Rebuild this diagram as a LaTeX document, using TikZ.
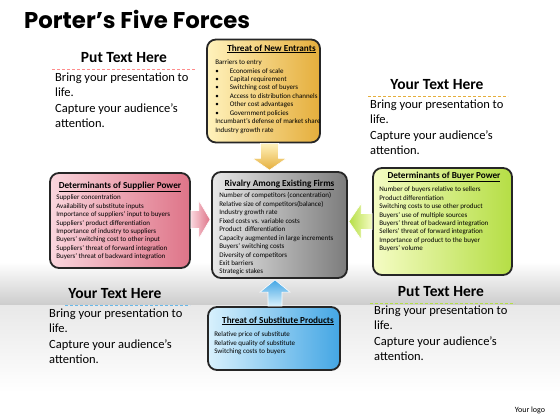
\documentclass[tikz,border=0pt]{standalone}
\usepackage{fontspec}
\setmainfont{Carlito}
\newfontfamily\titlefont{Poppins}
\usetikzlibrary{positioning,calc}

\definecolor{entrantslight}{HTML}{FFF2BC}
\definecolor{entrantsdark}{HTML}{E5AE3C}
\definecolor{supplierlight}{HTML}{FAD6DD}
\definecolor{supplierdark}{HTML}{DE7488}
\definecolor{rivalrylight}{HTML}{E8E8E8}
\definecolor{rivalrydark}{HTML}{7C7C7C}
\definecolor{buyerlight}{HTML}{F5FCC4}
\definecolor{buyerdark}{HTML}{B5DE45}
\definecolor{substlight}{HTML}{D8F1FD}
\definecolor{substdark}{HTML}{44A6E4}

\tikzset{
  forcebox/.style={draw=black!85, line width=1.8pt, rounded corners=9pt,
    shading angle=135, inner sep=0pt},
  boxhead/.style={font=\fontsize{9.2}{11}\selectfont\bfseries, anchor=base, inner sep=0pt},
  boxtext/.style={font=\fontsize{7}{8.45}\selectfont, align=left, anchor=north west, inner sep=0pt},
  blockarrow/.style={draw=white, line width=0.6pt},
  notehead/.style={font=\fontsize{15.5}{18}\selectfont\bfseries, inner sep=0pt},
  notetext/.style={font=\fontsize{12.5}{15.5}\selectfont, align=left, anchor=north west, inner sep=0pt},
  noteline/.style={densely dashed, line width=0.6pt}
}

\newcommand{\notebody}{Bring your presentation to\\life.\\Capture your audience’s\\attention.}

\begin{document}
\begin{tikzpicture}[x=1pt,y=-1pt]
\useasboundingbox (0,0) rectangle (560,420);
% background
\fill[white] (0,0) rectangle (560,420);
\shade[top color=white, bottom color=black!20] (0,262) rectangle (560,305);
\shade[top color=black!9, bottom color=white] (0,305) rectangle (560,392);

% title
\node[anchor=west, inner sep=0pt, font=\titlefont\bfseries\fontsize{22.8}{25}\selectfont] (title) at (24,19) {Porter’s Five Forces};

% the five boxes
\node[forcebox, left color=entrantslight, right color=entrantsdark, minimum width=113pt, minimum height=103pt] (entrants) at (263.5,91) {};
\node[forcebox, left color=supplierlight, right color=supplierdark, minimum width=140pt, minimum height=95pt] (supplier) at (120,220.5) {};
\node[forcebox, left color=rivalrylight, right color=rivalrydark, minimum width=135pt, minimum height=106pt] (rivalry) at (279.5,225) {};
\node[forcebox, left color=buyerlight, right color=buyerdark, minimum width=139pt, minimum height=107pt] (buyer) at (442.5,221.5) {};
\node[forcebox, left color=substlight, right color=substdark, minimum width=132pt, minimum height=63pt] (substitute) at (274,338.5) {};

% box texts
\node[boxhead] (entrantshead) at ($(entrants.north)+(8,12.5)$) {\underline{Threat of New Entrants}};
\node[boxtext] (entrantslist) at ($(entrants.north west)+(9,21)$) {Barriers to entry\\
\textbullet\hspace{11pt}Economies of scale\\
\textbullet\hspace{11pt}Capital requirement\\
\textbullet\hspace{11pt}Switching cost of buyers\\
\textbullet\hspace{11pt}Access to distribution channels\\
\textbullet\hspace{11pt}Other cost advantages\\
\textbullet\hspace{11pt}Government policies\\
Incumbant’s defense of market share\\
Industry growth rate};

\node[boxhead] (supplierhead) at ($(supplier.north)+(0,16)$) {\underline{Determinants of Supplier Power}};
\node[boxtext] (supplierlist) at ($(supplier.north west)+(7,22.5)$) {Supplier concentration\\
Availability of substitute inputs\\
Importance of suppliers’ input to buyers\\
Suppliers’ product differentiation\\
Importance of industry to suppliers\\
Buyers’ switching cost to other input\\
Suppliers’ threat of forward integration\\
Buyers’ threat of backward integration};

\node[boxhead] (rivalryhead) at ($(rivalry.north)+(0,15)$) {\underline{Rivalry Among Existing Firms}};
\node[boxtext] (rivalrylist) at ($(rivalry.north west)+(8,21.5)$) {Number of competitors (concentration)\\
Relative size of competitors(balance)\\
Industry growth rate\\
Fixed costs vs. variable costs\\
Product\ \ differentiation\\
Capacity augmented in large increments\\
Buyers’ switching costs\\
Diversity of competitors\\
Exit barriers\\
Strategic stakes};

\node[boxhead] (buyerhead) at ($(buyer.north)+(1.5,11)$) {\underline{Determinants of Buyer Power}};
\node[boxtext] (buyerlist) at ($(buyer.north west)+(7,19.5)$) {Number of buyers relative to sellers\\
Product differentiation\\
Switching costs to use other product\\
Buyers’ use of multiple sources\\
Buyers’ threat of backward integration\\
Sellers’ threat of forward integration\\
Importance of product to the buyer\\
Buyers’ volume};

\node[boxhead] (substitutehead) at ($(substitute.north)+(4,17)$) {\underline{Threat of Substitute Products}};
\node[boxtext] (substitutelist) at ($(substitute.north west)+(7,25.5)$) {Relative price of substitute\\
Relative quality of substitute\\
Switching costs to buyers};

% block arrows
\coordinate (atop) at ($(entrants.south)+(6,0)$);
\draw[blockarrow, top color=entrantslight, bottom color=entrantsdark]
  ($(atop)+(-9,0)$) -- ++(0,15) -- ++(-8,0) -- ($(atop |- rivalry.north)+(0,-1)$)
  -- ($(atop)+(17,15)$) -- ++(-8,0) -- ++(0,-15) -- cycle;
\coordinate (aleft) at ($(supplier.east)+(0,-1)$);
\draw[blockarrow, left color=supplierlight, right color=supplierdark]
  ($(aleft)+(0,-9)$) -- ++(8,0) -- ++(0,-10) -- ($(aleft -| rivalry.west)+(-1,0)$)
  -- ($(aleft)+(8,19)$) -- ++(0,-10) -- ++(-8,0) -- cycle;
\coordinate (aright) at (buyer.west);
\draw[blockarrow, right color=buyerlight, left color=buyerdark]
  ($(aright)+(0,-8)$) -- ++(-11,0) -- ++(0,-10) -- ($(aright -| rivalry.east)+(1,0)$)
  -- ($(aright)+(-11,18)$) -- ++(0,-10) -- ++(11,0) -- cycle;
\coordinate (abottom) at ($(substitute.north)+(1,0)$);
\draw[blockarrow, bottom color=substlight, top color=substdark]
  ($(abottom)+(-7,0)$) -- ++(0,-14) -- ++(-8,0) -- ($(abottom |- rivalry.south)+(0,1)$)
  -- ($(abottom)+(15,-14)$) -- ++(-8,0) -- ++(0,14) -- cycle;

% side notes
\node[notehead] (note1) at (124,58) {Put Text Here};
\draw[noteline, red!45] (52,69) -- (195,69);
\node[notetext] (note1text) at (55,72.2) {\notebody};

\node[notehead] (note2) at (437,85) {Your Text Here};
\draw[noteline, entrantsdark] (368,96) -- (508,96);
\node[notetext] (note2text) at (370,99.2) {\notebody};

\node[notehead] (note3) at (115,294) {Your Text Here};
\draw[noteline, substdark!80] (65,305) -- (190,305);
\node[notetext] (note3text) at (49,308.2) {\notebody};

\node[notehead] (note4) at (441,292) {Put Text Here};
\draw[noteline, buyerdark] (370,303) -- (515,303);
\node[notetext] (note4text) at (374,305.2) {\notebody};

\node[font=\fontsize{8}{10}\selectfont, inner sep=0pt] (logo) at (530,410) {Your logo};
\end{tikzpicture}
\end{document}
